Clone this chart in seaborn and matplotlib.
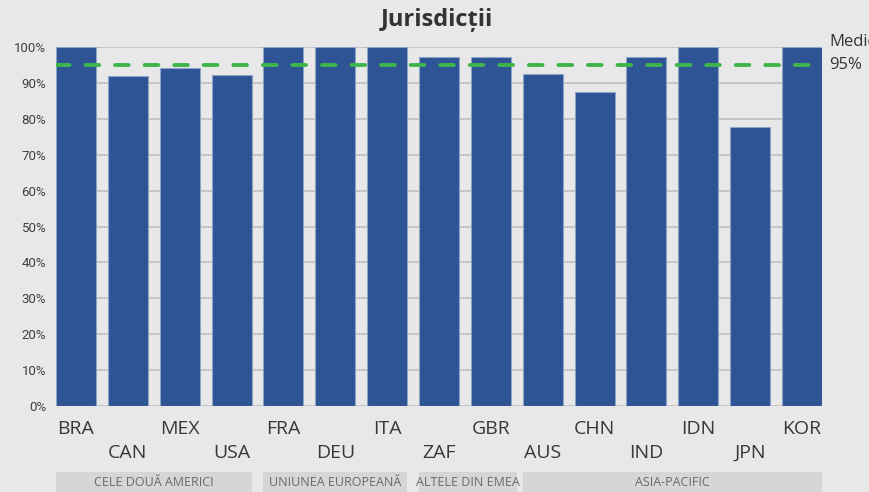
import numpy as np
import matplotlib
matplotlib.use("Agg")
import matplotlib.pyplot as plt
import matplotlib.transforms as mtransforms
from matplotlib.patches import Rectangle
import seaborn as sns

# --- data ---
countries = ["BRA", "CAN", "MEX", "USA", "FRA", "DEU", "ITA", "ZAF",
             "GBR", "AUS", "CHN", "IND", "IDN", "JPN", "KOR"]
values = [100, 92, 94.2, 92.3, 100, 100, 100, 97.3,
          97.3, 92.5, 87.5, 97.3, 100, 77.6, 100]
median_value = 95
group_names = ["CELE DOUĂ AMERICI", "UNIUNEA EUROPEANĂ", "ALTELE DIN EMEA", "ASIA-PACIFIC"]
group_first = [0, 4, 7, 9]
group_last = [3, 6, 8, 14]
y_ticks = [0, 10, 20, 30, 40, 50, 60, 70, 80, 90, 100]

BG = "#e8e8e8"
BAR = "#2e5495"
GREEN = "#3db54a"
W = 0.77

sns.set_style("white", {"axes.facecolor": BG, "figure.facecolor": BG})
plt.rcParams["font.family"] = ["Open Sans", "DejaVu Sans"]

fig = plt.figure(figsize=(8.69, 4.92), dpi=100)
ax = fig.add_axes([56 / 869, 86 / 492, 766 / 869, 359 / 492])

sns.barplot(x=countries, y=values, color=BAR, width=W, saturation=1,
            edgecolor="#8ea3c8", linewidth=0.8, ax=ax, zorder=2)

ax.set_xlim(-W / 2, len(countries) - 1 + W / 2)
ax.set_ylim(0, 100)
ax.set_yticks(y_ticks)
ax.set_yticklabels([f"{t}%" for t in y_ticks], fontsize=9.5, color="#404040",
                   family=["Roboto", "DejaVu Sans"])
ax.yaxis.grid(True, color="#c6c6c6", lw=1.4, zorder=0)
ax.set_axisbelow(True)
ax.tick_params(axis="y", length=4, color="#c6c6c6", pad=3)
for s in ax.spines.values():
    s.set_visible(False)

# staggered x labels: even positions on top row, odd on bottom row
pos = np.arange(len(countries))
ax.set_xticks(pos[::2])
ax.set_xticklabels(countries[::2], fontsize=14, color="#383838")
ax.set_xticks(pos[1::2], minor=True)
ax.set_xticklabels(countries[1::2], minor=True, fontsize=14, color="#383838")
ax.tick_params(axis="x", which="major", length=6, width=1, color="#c6c6c6", pad=4)
ax.tick_params(axis="x", which="minor", length=24, width=1, color="#c6c6c6", pad=3)
ax.set_xlabel("")
ax.set_ylabel("")

# median line
ax.axhline(median_value, color=GREEN, lw=2.8, ls=(0, (3.5, 4.1)),
           dash_capstyle="round", zorder=3)
ax.annotate(f"{median_value}%", xy=(1, median_value), xycoords=("axes fraction", "data"),
            xytext=(5, 0), textcoords="offset points", va="center", ha="left",
            fontsize=12, color="#333333", annotation_clip=False)
ax.annotate("Medie", xy=(1, median_value), xycoords=("axes fraction", "data"),
            xytext=(5, 16.5), textcoords="offset points", va="center", ha="left",
            fontsize=12, color="#333333", annotation_clip=False)

# region bands under the labels
trans = mtransforms.blended_transform_factory(ax.transData, fig.transFigure)
for name, a, b in zip(group_names, group_first, group_last):
    x0 = a - W / 2
    x1 = b + W / 2
    if b - a == 1:
        x1 += 0.12
    fig.patches.append(Rectangle((x0, 0), x1 - x0, 20 / 492, transform=trans,
                                 facecolor="#d6d6d6", edgecolor="none"))
    fig.text((x0 + x1) / 2, 10 / 492, name, transform=trans, ha="center", va="center",
             fontsize=9, color="#6a6a6a")

fig.suptitle("Jurisdicții", x=437 / 869, y=0.983, va="top",
             fontsize=17, fontweight="bold", color="#333333")

fig.savefig("out.png", dpi=100, facecolor=BG)
